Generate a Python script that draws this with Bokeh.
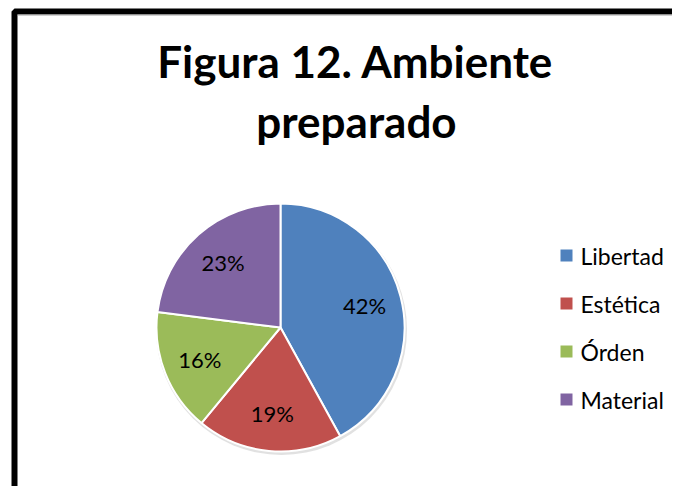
import math
from bokeh.plotting import figure
from bokeh.models import Range1d, ColumnDataSource
from bokeh.core.properties import value
from bokeh.embed import file_html
from bokeh.resources import INLINE

# Data
categories = ["Libertad", "Estética", "Órden", "Material"]
percentages = [42, 19, 16, 23]
colors = ["#4F81BD", "#C0504D", "#9BBB59", "#8064A2"]
title_lines = ["Figura 12. Ambiente", "preparado"]

W, H = 672, 486
# data coords: x = screen x, y = 502 - screen y (figure drawn from page origin)
p = figure(width=W, height=H, output_backend="svg", toolbar_location=None,
           x_range=Range1d(0, W), y_range=Range1d(502 - H, 502),
           min_border=0)
p.axis.visible = False
p.grid.visible = False
p.outline_line_color = None
p.background_fill_color = "white"
p.border_fill_color = "white"

def Y(sy):
    return 502 - sy

# frame (cropped on right/bottom like the reference)
p.line(x=[14, 14, 800], y=[Y(700), Y(11), Y(11)], line_color="black", line_width=6)
p.line(x=[17, 800], y=[Y(14.5), Y(14.5)], line_color="#A0A0A0", line_width=1)

# pie
cx, cy, r = 280, Y(327), 124
total = sum(percentages)
starts, ends, lx, ly = [], [], [], []
a = math.pi / 2
for v in percentages:
    sweep = 2 * math.pi * v / total
    starts.append(a)
    ends.append(a - sweep)
    mid = a - sweep / 2
    lx.append(cx + 0.70 * r * math.cos(mid))
    ly.append(cy + 0.70 * r * math.sin(mid))
    a -= sweep

src = ColumnDataSource(dict(start=starts, end=ends, color=colors,
                            lx=lx, ly=ly,
                            label=[f"{v}%" for v in percentages]))
p.circle(x=[cx + 1], y=[cy - 2], radius=r + 1.5, fill_color="#D9D9D9",
         line_color=None, fill_alpha=0.8)
p.wedge(x=cx, y=cy, radius=r, start_angle="start", end_angle="end",
        direction="clock", fill_color="color", line_color="white",
        line_width=2, source=src)
p.text(x="lx", y="ly", text="label", source=src, text_align="center",
       text_baseline="middle", text_font=value("Lato"), text_font_size="22px",
       text_color="black")

# legend
lg_y = [Y(255 + 48 * i) for i in range(len(categories))]
lsrc = ColumnDataSource(dict(y=lg_y, color=colors, label=categories))
p.rect(x=566, y="y", width=12, height=12, fill_color="color",
       line_color=None, source=lsrc)
p.text(x=580, y="y", text="label", source=lsrc, text_align="left",
       text_baseline="middle", text_font=value("Lato"), text_font_size="23px",
       text_color="black")

# title
p.text(x=[355, 356], y=[Y(60), Y(120)], text=title_lines, text_align="center",
       text_baseline="middle", text_font=value("Lato"),
       text_font_size="44px", text_font_style="bold", text_color="black")

open("out.html", "w").write(file_html(p, INLINE))
